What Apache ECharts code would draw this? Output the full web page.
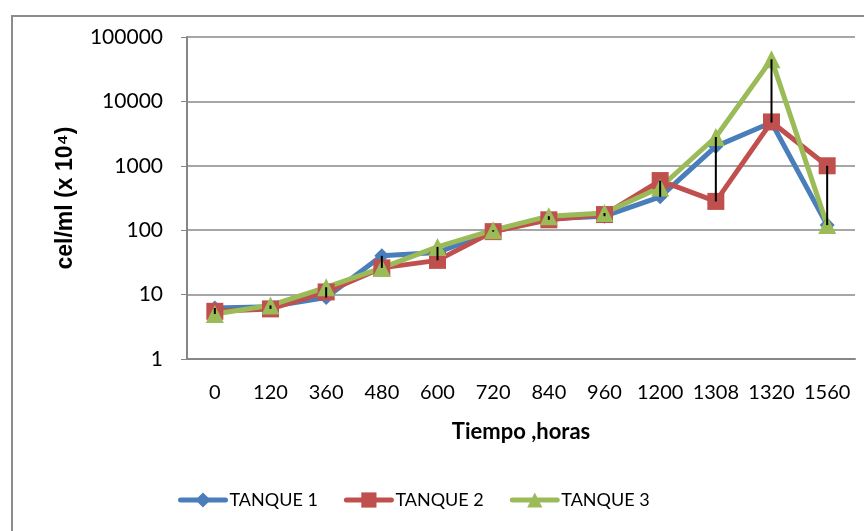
<!DOCTYPE html>
<html>
<head>
<meta charset="utf-8">
<script src="https://cdn.jsdelivr.net/npm/echarts@6/dist/echarts.min.js"></script>
<style>
  html, body { margin: 0; padding: 0; background: #ffffff; }
  #chart { width: 864px; height: 531px; }
</style>
</head>
<body>
<div id="chart"></div>
<script>
// Sampling times (hours)
var horas = ['0', '120', '360', '480', '600', '720', '840', '960', '1200', '1308', '1320', '1560'];

// Cell counts, cel/ml (x 10^4)
var tanque1 = [6.2, 6.5, 9, 40, 45, 95, 150, 165, 330, 2000, 4700, 120];
var tanque2 = [5.5, 6, 11, 26, 34, 95, 145, 175, 590, 280, 4800, 1000];
var tanque3 = [5, 6.8, 13, 26, 55, 100, 165, 185, 460, 2800, 45000, 120];

// Range between tanks at each time (min to max)
var rango = horas.map(function (h, i) {
  var v = [tanque1[i], tanque2[i], tanque3[i]];
  return [i, Math.min.apply(null, v), Math.max.apply(null, v)];
});

var chart = echarts.init(document.getElementById('chart'));
var font = 'Lato, "Open Sans", sans-serif';

function lineSeries(name, data, color, symbol, size) {
  return {
    name: name,
    type: 'line',
    data: data,
    symbol: symbol,
    symbolSize: size,
    lineStyle: { color: color, width: 5, cap: 'round', join: 'round' },
    itemStyle: { color: color },
    z: 2
  };
}

chart.setOption({
  animation: false,
  backgroundColor: '#ffffff',
  graphic: [{
    type: 'rect',
    shape: { x: 12, y: 16, width: 870, height: 530 },
    style: { fill: 'none', stroke: '#8c8c8c', lineWidth: 2 },
    silent: true,
    z: -1
  }],
  grid: { left: 187, right: 9, top: 37, bottom: 172 },
  legend: {
    bottom: 17,
    left: 173,
    itemWidth: 45,
    itemHeight: 19,
    itemGap: 26,
    lineStyle: { width: 5, cap: 'round' },
    textStyle: { fontFamily: font, fontSize: 18, color: '#000', padding: [0, 0, 0, -1] },
    data: ['TANQUE 1', 'TANQUE 2', 'TANQUE 3']
  },
  xAxis: {
    type: 'category',
    data: horas,
    boundaryGap: true,
    axisLine: { lineStyle: { color: '#868686', width: 2 } },
    axisTick: { show: false },
    axisLabel: { fontFamily: font, fontSize: 20, color: '#000', margin: 24, interval: 0, hideOverlap: false },
    name: 'Tiempo ,horas',
    nameLocation: 'middle',
    nameGap: 62,
    nameTextStyle: { fontFamily: font, fontSize: 22, fontWeight: 'bold', color: '#000' }
  },
  yAxis: {
    type: 'log',
    logBase: 10,
    min: 1,
    max: 100000,
    axisLine: { show: true, lineStyle: { color: '#868686', width: 2 } },
    axisTick: { show: true, inside: false, length: 6, lineStyle: { color: '#868686' } },
    splitLine: { lineStyle: { color: '#a6a6a6', width: 2 } },
    axisLabel: {
      fontFamily: font, fontSize: 21, color: '#000', margin: 24,
      formatter: function (v) { return String(v); }
    },
    name: 'cel/ml (x 10⁴)',
    nameLocation: 'middle',
    nameGap: 110,
    nameRotate: 90,
    nameTextStyle: { fontFamily: '"Liberation Sans", Arial, sans-serif', fontSize: 23, fontWeight: 'bold', color: '#000' }
  },
  series: [
    lineSeries('TANQUE 1', tanque1, '#4A7EBB', 'diamond', 15),
    lineSeries('TANQUE 2', tanque2, '#C0504D', 'rect', 17),
    lineSeries('TANQUE 3', tanque3, '#9BBB59', 'triangle', 18),
    {
      name: 'rango',
      type: 'custom',
      data: rango,
      z: 5,
      renderItem: function (params, api) {
        var p1 = api.coord([api.value(0), api.value(1)]);
        var p2 = api.coord([api.value(0), api.value(2)]);
        return {
          type: 'line',
          shape: { x1: p1[0], y1: p1[1], x2: p2[0], y2: p2[1] },
          style: { stroke: '#000', lineWidth: 2 }
        };
      }
    }
  ]
});
</script>
</body>
</html>
